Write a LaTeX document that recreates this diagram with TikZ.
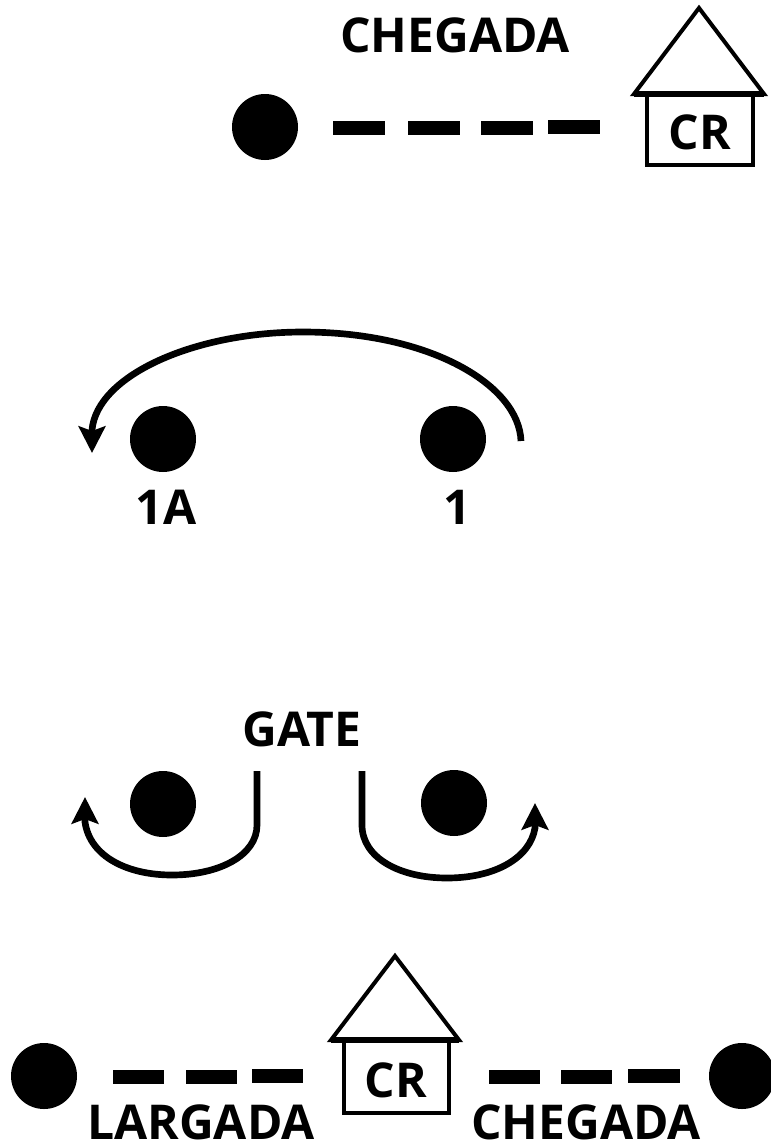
\documentclass[tikz,border=0pt]{standalone}
\usepackage{fontspec}
\setmainfont{Open Sans}[BoldFont={Open Sans Bold}]
\usetikzlibrary{arrows.meta}
\tikzset{
  every picture/.style={x=0.75pt,y=-0.75pt},
  dot/.style={circle,fill=black,draw=none,minimum size=49.5pt,inner sep=0pt},
  bar/.style={fill=black,draw=none,minimum width=38.5pt,minimum height=10.5pt,inner sep=0pt},
  lab/.style={anchor=base,font=\fontsize{36}{36}\selectfont\bfseries,inner sep=0pt},
  roof/.style={draw=black,line width=3pt,line join=miter},
  roofbase/.style={draw=black,line width=5pt},
  hut/.style={draw=black,line width=3pt,fill=white},
  turn/.style={draw=black,line width=5pt,-{Stealth[length=20pt,width=20pt,inset=3.5pt]}}
}
\begin{document}
\begin{tikzpicture}
\useasboundingbox (0,0) rectangle (771,1146);
\clip (0,0) rectangle (771,1146);
% top
\node[dot] (d1) at (265,127) {};
\node[bar] (b1) at (359,128) {};
\node[bar] (b2) at (434,128) {};
\node[bar] (b3) at (507,128) {};
\node[bar] (b4) at (574,127) {};
\draw[hut] (647,94) rectangle (753,165);
\draw[roof] (699,8) -- (764,94) -- (634,94) -- cycle;
\coordinate (r1a) at (634,94);
\coordinate (r1b) at (764,94);
\draw[roofbase] (r1a) -- (r1b);
\node[lab] (cr1) at (700,149) {CR};
\node[lab] (ch1) at (455,52) {CHEGADA};
% middle
\node[dot] (d2) at (163,439) {};
\node[dot] (d3) at (453,439) {};
\node[lab] (l1a) at (166,524) {1A};
\node[lab] (l1) at (457,524) {1};
\coordinate (a0) at (521,441);
\coordinate (a1) at (303,332);
\coordinate (a2) at (92,453);
\coordinate (a3) at (92,430);
\draw[turn] (a0) .. controls (519,385) and (430,332) .. (a1) .. controls (195,332) and (97,375) .. (a3) -- (a2);
% gate
\node[lab] (gate) at (302,746) {GATE};
\node[dot] (d4) at (163,804) {};
\node[dot] (d5) at (454,803) {};
\coordinate (g0) at (257,771);
\coordinate (g1) at (257,825);
\coordinate (g2) at (172,875);
\coordinate (g3) at (85,797);
\coordinate (g4) at (85,822);
\draw[turn] (g0) -- (g1) .. controls (257,855) and (220,875) .. (g2) .. controls (128,875) and (90,857) .. (g4) -- (g3);
\coordinate (h0) at (362,771);
\coordinate (h1) at (362,825);
\coordinate (h2) at (447,878);
\coordinate (h3) at (535,803);
\coordinate (h4) at (535,828);
\draw[turn] (h0) -- (h1) .. controls (362,858) and (400,878) .. (h2) .. controls (495,878) and (530,858) .. (h4) -- (h3);
% bottom
\node[dot] (d6) at (44,1076) {};
\node[dot] (d7) at (742,1076) {};
\node[bar] (b5) at (138.5,1077) {};
\node[bar] (b6) at (211.5,1077) {};
\node[bar] (b7) at (277.5,1076) {};
\node[bar] (b8) at (514.5,1077) {};
\node[bar] (b9) at (586.5,1077) {};
\node[bar] (b10) at (654,1076) {};
\draw[hut] (344,1040) rectangle (449,1113);
\draw[roof] (395,956) -- (459,1040) -- (331,1040) -- cycle;
\coordinate (r2a) at (331,1040);
\coordinate (r2b) at (459,1040);
\draw[roofbase] (r2a) -- (r2b);
\node[lab] (cr2) at (396,1097) {CR};
\node[lab] (larg) at (201,1139) {LARGADA};
\node[lab] (ch2) at (586,1139) {CHEGADA};
\end{tikzpicture}
\end{document}
